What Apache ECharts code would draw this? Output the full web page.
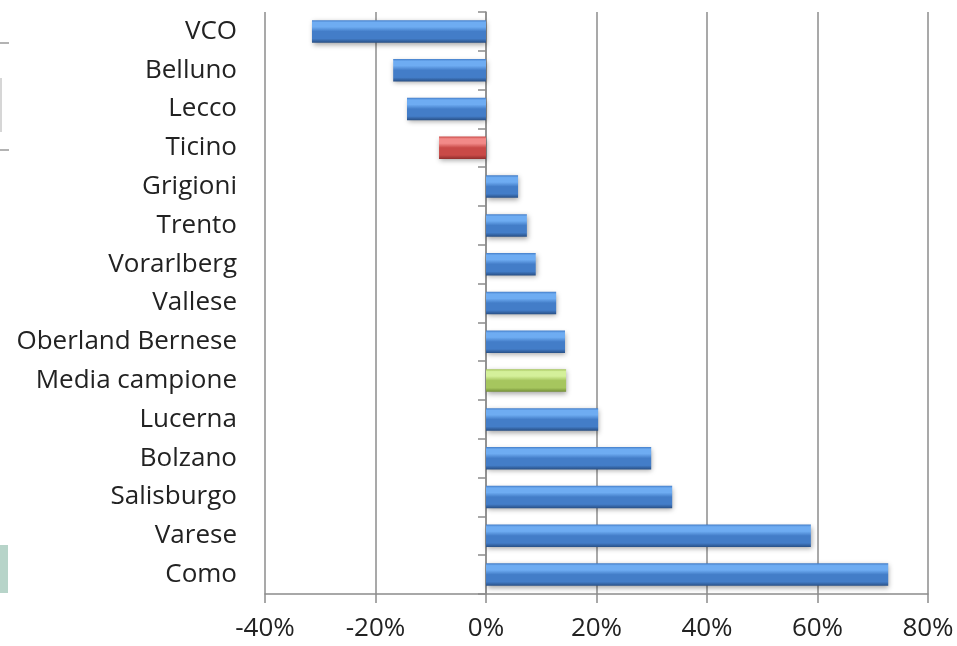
<!DOCTYPE html>
<html>
<head>
<meta charset="utf-8">
<title>Variazione per territorio</title>
<script src="https://cdn.jsdelivr.net/npm/echarts@6/dist/echarts.min.js"></script>
<style>
  html, body { margin: 0; padding: 0; background: #fff; }
  #chart { width: 957px; height: 646px; }
</style>
</head>
<body>
<div id="chart"></div>
<script>
// 类别（从上到下）
const categories = [
  'VCO', 'Belluno', 'Lecco', 'Ticino', 'Grigioni', 'Trento', 'Vorarlberg',
  'Vallese', 'Oberland Bernese', 'Media campione', 'Lucerna', 'Bolzano',
  'Salisburgo', 'Varese', 'Como'
];
// 变化率 (%)
const values = [-31.5, -16.8, -14.3, -8.5, 5.8, 7.4, 9.0, 12.7, 14.3, 14.5, 20.3, 29.9, 33.7, 58.8, 72.8];
// 刻度
const xTicks = [-40, -20, 0, 20, 40, 60, 80];

// 斜面渐变
const bevel = (light, mid, dark) => new echarts.graphic.LinearGradient(0, 0, 0, 1, [
  { offset: 0, color: mid },
  { offset: 0.1, color: light },
  { offset: 0.3, color: light },
  { offset: 0.5, color: mid },
  { offset: 0.82, color: mid },
  { offset: 1, color: dark }
]);

const BLUE = bevel('#6eacf2', '#437dc8', '#284f85');
const RED = bevel('#f28a88', '#c94a47', '#8e2f2d');
const GREEN = bevel('#d4f09a', '#a6c65e', '#728d36');

function barColor(name) {
  if (name === 'Ticino') return RED;
  if (name === 'Media campione') return GREEN;
  return BLUE;
}

const chart = echarts.init(document.getElementById('chart'));
chart.setOption({
  animation: false,
  grid: { left: 265, right: 29, top: 12, bottom: 52, containLabel: false, outerBoundsMode: 'none' },
  xAxis: {
    type: 'value',
    min: xTicks[0],
    max: xTicks[xTicks.length - 1],
    interval: 20,
    axisLine: { show: true, lineStyle: { color: '#8c8c8c', width: 1.5 } },
    axisTick: { show: true, length: 9, lineStyle: { color: '#8c8c8c', width: 1.5 } },
    axisLabel: {
      formatter: v => v + '%',
      fontFamily: 'Open Sans',
      fontSize: 26,
      color: '#222',
      margin: 22
    },
    splitLine: { show: true, lineStyle: { color: '#8c8c8c', width: 1.5 } }
  },
  yAxis: {
    type: 'category',
    inverse: true,
    data: categories,
    axisLine: { show: true, onZero: true, lineStyle: { color: '#8c8c8c', width: 1.5 } },
    axisTick: { show: true, length: 8, lineStyle: { color: '#8c8c8c', width: 1.5 } },
    axisLabel: {
      fontFamily: 'Open Sans',
      fontSize: 26,
      color: '#222',
      margin: 28
    }
  },
  series: [{
    type: 'bar',
    barWidth: '58%',
    z: 3,
    data: values.map((v, i) => ({
      value: v,
      itemStyle: {
        color: barColor(categories[i]),
        shadowColor: 'rgba(0,0,0,0.35)',
        shadowBlur: 5,
        shadowOffsetY: 2,
        shadowOffsetX: 1
      }
    }))
  }],
  graphic: [
    { type: 'polyline', shape: { points: [[0, 43], [9, 43]] }, style: { stroke: '#9a9a9a', lineWidth: 1.5 } },
    { type: 'polyline', shape: { points: [[0, 150], [9, 150]] }, style: { stroke: '#9a9a9a', lineWidth: 1.5 } },
    { type: 'polyline', shape: { points: [[1, 78], [1, 132]] }, style: { stroke: '#c8c8c8', lineWidth: 1.5 } },
    { type: 'rect', shape: { x: 0, y: 545, width: 8, height: 48 }, style: { fill: '#b7d4c9' } }
  ]
});
</script>
</body>
</html>
